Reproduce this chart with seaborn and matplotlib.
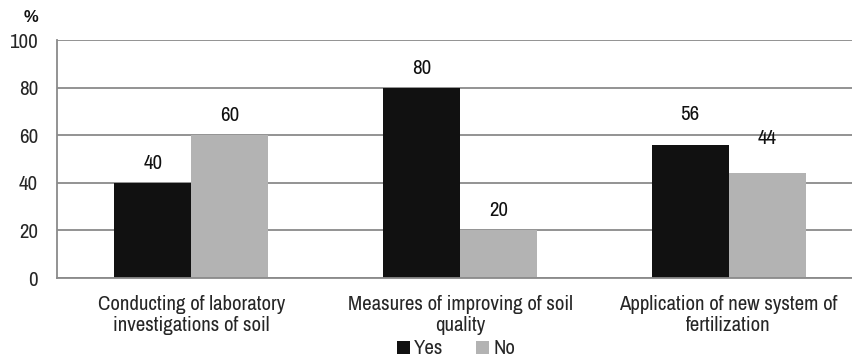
import matplotlib
matplotlib.use("Agg")
import matplotlib.pyplot as plt
import seaborn as sns
import pandas as pd
from matplotlib.patches import Patch
from matplotlib import font_manager

categories = [
    "Conducting of laboratory\ninvestigations of soil",
    "Measures of improving of soil\nquality",
    "Application of new system of\nfertilization",
]
yes_values = [40, 80, 56]
no_values = [60, 20, 44]
series_names = ["Yes", "No"]
y_ticks = [0, 20, 40, 60, 80, 100]

sns.set_theme(style="white")

# pick a narrow sans-serif face if one is installed
available = {f.name for f in font_manager.fontManager.ttflist}
narrow_candidates = ["Liberation Sans Narrow", "Arial Narrow", "Archivo Narrow",
                     "PT Sans Narrow", "Roboto Condensed", "Liberation Sans"]
chosen = next((n for n in narrow_candidates if n in available), "DejaVu Sans")
plt.rcParams["font.family"] = [chosen, "DejaVu Sans"]

df = pd.DataFrame({
    "category": categories * 2,
    "answer": [series_names[0]] * 3 + [series_names[1]] * 3,
    "value": yes_values + no_values,
})

palette = {"Yes": "#111111", "No": "#b3b3b3"}
grid_color = "#8a8a8a"
fs = 15

fig = plt.figure(figsize=(8.52, 3.58), dpi=100)
ax = fig.add_axes([57 / 852, 80 / 358, 806 / 852, 238 / 358])

sns.barplot(data=df, x="category", y="value", hue="answer", order=categories,
            hue_order=series_names, palette=palette, width=0.572,
            saturation=1, ax=ax, legend=False, linewidth=0)

ax.set_xlim(-0.5, 2.5)
ax.set_ylim(0, 100)
ax.set_yticks(y_ticks)
ax.set_yticklabels([str(t) for t in y_ticks], fontsize=fs)
ax.yaxis.grid(True, color=grid_color, linewidth=1.3)
ax.set_axisbelow(True)
ax.tick_params(axis="y", length=5.5, width=1.3, color=grid_color, pad=8)

ax.set_xticks([0, 1, 2])
ax.set_xticklabels(categories, fontsize=fs, linespacing=1.15)
ax.tick_params(axis="x", which="major", length=0, pad=12)
ax.set_xticks([-0.5, 0.5, 1.5, 2.5], minor=True)
ax.tick_params(axis="x", which="minor", length=5, width=1.3, color=grid_color)

ax.set_xlabel("")
ax.set_ylabel("")
for side in ("top", "right"):
    ax.spines[side].set_visible(False)
for side in ("left", "bottom"):
    ax.spines[side].set_color(grid_color)
    ax.spines[side].set_linewidth(1.3)

# value labels above the bars
label_offsets = [[14, 14, 22], [14, 14, 25]]
for s, (cont, vals) in enumerate(zip(ax.containers, [yes_values, no_values])):
    for i, (bar, v) in enumerate(zip(cont, vals)):
        ax.annotate(str(v), (bar.get_x() + bar.get_width() / 2, v),
                    xytext=(0, label_offsets[s][i]), textcoords="offset points",
                    ha="center", va="center", fontsize=fs, color="#111111")

fig.text(31 / 852, 1 - 18 / 358, "%", fontsize=12, fontweight="bold",
         family=["Liberation Sans", "DejaVu Sans"],
         ha="center", va="center", color="#111111")

handles = [Patch(facecolor=palette[n], edgecolor="none") for n in series_names]
fig.legend(handles, series_names, loc="center", bbox_to_anchor=(456 / 852, 1 - 349 / 358),
           ncol=2, frameon=False, fontsize=fs, handlelength=0.6, handleheight=0.6,
           handletextpad=0.2, columnspacing=1.6, borderpad=0)

fig.savefig("out.png", dpi=100)
